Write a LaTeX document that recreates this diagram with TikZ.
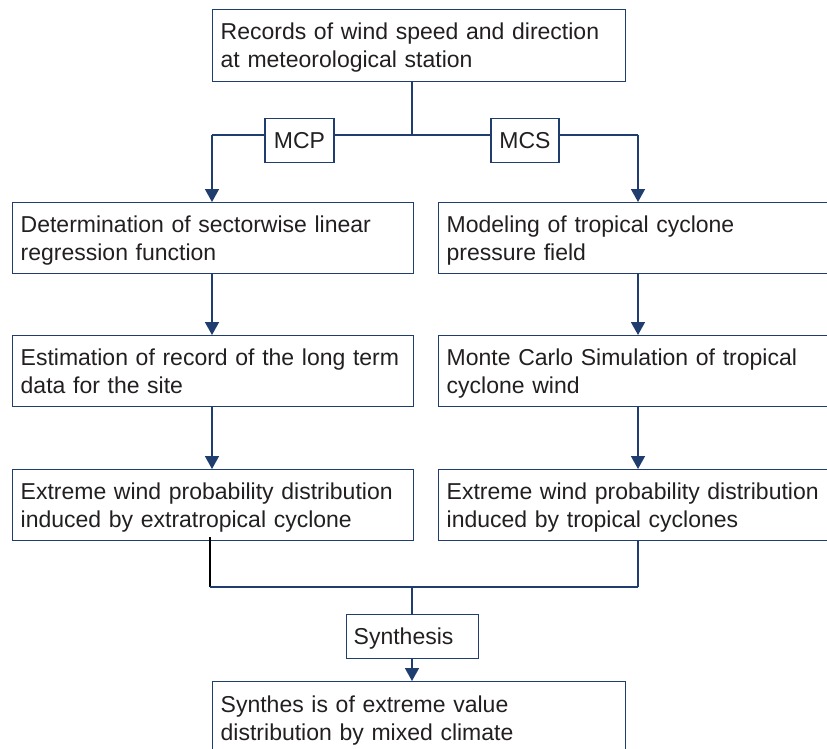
\documentclass[tikz,border=0pt]{standalone}
\usepackage{fontspec}
\setmainfont{Liberation Sans}
\usetikzlibrary{arrows.meta}
\definecolor{navy}{HTML}{1F3D6E}
\definecolor{ink}{HTML}{231F20}
\begin{document}
\begin{tikzpicture}[x=1pt,y=-1pt,
  every node/.style={font=\fontsize{23}{28}\selectfont, text=ink},
  box/.style={draw=navy, line width=1.4pt, anchor=north west, align=left,
    inner xsep=8pt, inner ysep=0pt},
  rowbox/.style={box, text height=30pt, text depth=41pt},
  tag/.style={draw=navy, line width=1.4pt, inner ysep=0pt, inner xsep=0pt,
    text height=30pt, text depth=14pt},
  link/.style={draw=navy, line width=1.6pt},
  flow/.style={link, -{Triangle[width=14pt,length=13pt]}}]
\useasboundingbox (0,0) rectangle (827,749);
\clip (0,0) rectangle (827,749);

% source data
\node[rowbox, text depth=42pt, text width=397pt] (top) at (212,9)
  {Records of wind speed and direction\\at meteorological station};

% left branch (MCP)
\node[rowbox, text width=385pt] (l1) at (12,202)
  {Determination of sectorwise linear\\regression function};
\node[rowbox, text width=385pt] (l2) at (12,335)
  {Estimation of record of the long term\\data for the site};
\node[rowbox, text width=385pt] (l3) at (12,469)
  {Extreme wind probability distribution\\induced by extratropical cyclone};

% right branch (MCS)
\node[rowbox, text width=384pt] (r1) at (438,202)
  {Modeling of tropical cyclone\\pressure field};
\node[rowbox, text width=384pt] (r2) at (438,335)
  {Monte Carlo Simulation of tropical\\cyclone wind};
\node[rowbox, text width=384pt] (r3) at (438,469)
  {Extreme wind probability distribution\\induced by tropical cyclones};

% combined result
\node[rowbox, text height=31pt, text depth=40pt, text width=397pt] (res) at (212,681)
  {Synthes is of extreme value\\distribution by mixed climate};

% split below the source box
\coordinate (split) at (412,135);
\coordinate (lturn) at (212,135);
\coordinate (rturn) at (638,135);
\draw[link] (top.south -| split) -- (split);
\draw[link] (lturn) -- (rturn);
\draw[flow] (lturn) -- (l1.north -| lturn);
\draw[flow] (rturn) -- (r1.north -| rturn);
\node[tag, minimum width=69pt, fill=white, anchor=north] (mcp) at (299.5,118) {MCP};
\node[tag, minimum width=68pt, fill=white, anchor=north] (mcs) at (525,118) {MCS};

% chains
\draw[flow] (l1.south -| lturn) -- (l2.north -| lturn);
\draw[flow] (l2.south -| lturn) -- (l3.north -| lturn);
\draw[flow] (r1.south -| rturn) -- (r2.north -| rturn);
\draw[flow] (r2.south -| rturn) -- (r3.north -| rturn);

% merge
\coordinate (merge) at (412,587);
\coordinate (lm) at (210,587);
\coordinate (rm) at (638,587);
\draw[line width=1.4pt, black] (210,537) -- (lm);
\draw[link] (lm) -- (rm);
\draw[link] (r3.south -| rturn) -- (rm);
\node[tag, anchor=north west, align=left, inner xsep=7pt,
  text width=118pt] (syn) at (346,614) {Synthesis};
\draw[link] (merge) -- (syn.north -| merge);
\draw[flow] (syn.south -| merge) -- (res.north -| merge);
\end{tikzpicture}
\end{document}
